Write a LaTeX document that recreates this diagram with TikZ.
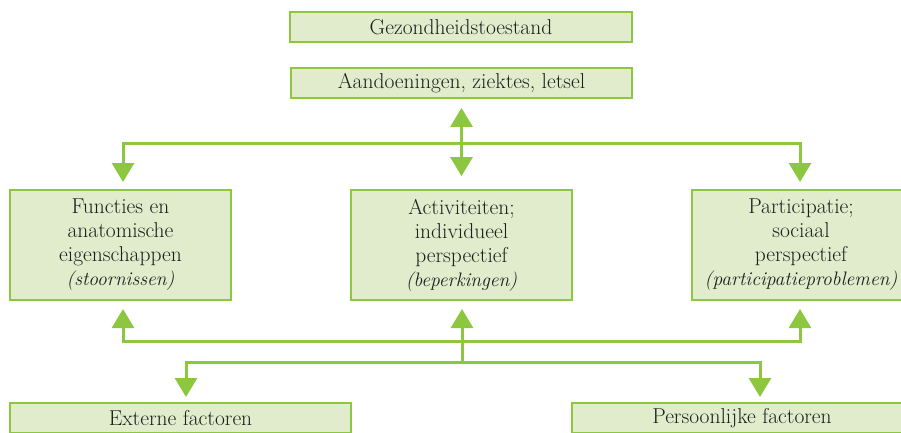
\documentclass[tikz,border=0pt]{standalone}
\usetikzlibrary{arrows.meta}
\definecolor{lgreen}{RGB}{141,198,63}
\definecolor{lfill}{RGB}{224,236,204}
\definecolor{txt}{RGB}{30,30,30}
\newcommand{\paren}[1]{{\fontsize{19.5}{24}\selectfont\itshape #1}}
\begin{document}
\begin{tikzpicture}[x=1pt,y=-1pt,
  box/.style={draw=lgreen, line width=1.8pt, fill=lfill, text=txt, align=center,
    inner sep=0pt, font=\fontsize{21.5}{24}\selectfont},
  conn/.style={draw=lgreen, line width=3pt},
  tri/.tip={Triangle[width=22pt,length=19pt]}]
\useasboundingbox (0,0) rectangle (901,432);
\clip (0,0) rectangle (901,432);
% boxes
\node[box, minimum width=342pt, minimum height=30pt] (gez) at (461,27) {Gezondheidstoestand};
\node[box, minimum width=341pt, minimum height=30pt] (aand) at (461.5,83) {Aandoeningen, ziektes, letsel};
\node[box, minimum width=221pt, minimum height=110pt] (fun) at (120.5,245)
  {Functies en\\anatomische\\eigenschappen\\\paren{(stoornissen)}};
\node[box, minimum width=221pt, minimum height=110pt] (act) at (461.5,245)
  {Activiteiten;\\individueel\\perspectief\\\paren{(beperkingen)}};
\node[box, minimum width=218pt, minimum height=110pt] (par) at (801,245)
  {Participatie;\\sociaal\\perspectief\\\paren{(participatieproblemen)}};
\node[box, minimum width=341pt, minimum height=30pt] (ext) at (180.5,418) {Externe factoren};
\node[box, minimum width=340pt, minimum height=30pt] (pers) at (742,418) {Persoonlijke factoren};
% connector points
\coordinate (ftop) at (123,182);
\coordinate (ptop) at (800,182);
\coordinate (hr) at (800,143);
\coordinate (fbot) at (123,309);
\coordinate (pbot) at (800,309);
\coordinate (br) at (800,341);
\coordinate (abot) at (462,309);
\coordinate (mjoin) at (462,362);
\coordinate (etop) at (186,397);
\coordinate (ptop2) at (760,397);
\coordinate (lr) at (760,362);
% top connectors
\draw[conn, tri-tri] ([yshift=-9pt]aand.south) -- ([yshift=13pt]act.north);
\draw[conn, tri-tri] (ftop) |- (hr) -- (ptop);
% bottom connectors
\draw[conn, tri-tri] (fbot) |- (br) -- (pbot);
\draw[conn, -tri] (mjoin) -- (abot);
\draw[conn, tri-tri] (etop) |- (lr) -- (ptop2);
\end{tikzpicture}
\end{document}
